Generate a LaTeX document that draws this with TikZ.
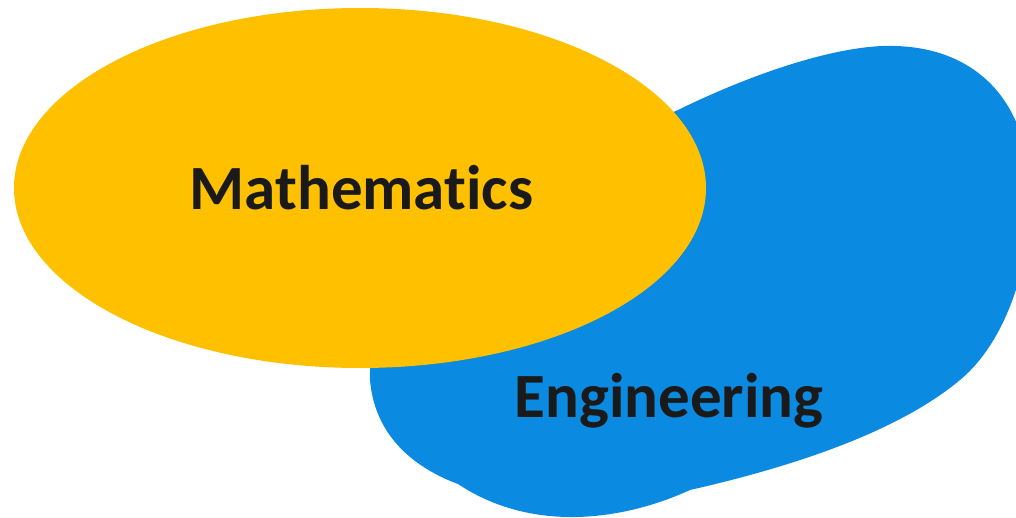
\documentclass[tikz,border=0pt]{standalone}
\usepackage{fontspec}
\setmainfont{Carlito}[Ligatures=NoCommon]
\usetikzlibrary{calc}

\definecolor{mathyellow}{HTML}{FFC000}
\definecolor{engblue}{HTML}{0A8AE0}
\definecolor{inkdark}{HTML}{1A1A1A}

\begin{document}
\begin{tikzpicture}[x=1pt, y=-1pt,
  areatext/.style={anchor=base, inner sep=0, text=inkdark, font=\fontsize{63}{70}\selectfont\bfseries}]
\useasboundingbox (0,0) rectangle (1016,518);
\clip (0,0) rectangle (1016,518);
% engineering blob
\fill[engblue] (678,110) .. controls (770,65) and (850,44) .. (895,46)
  .. controls (975,48) and (1028,100) .. (1030,190)
  .. controls (1032,260) and (1008,340) .. (960,380)
  .. controls (900,430) and (800,465) .. (690,490)
  .. controls (620,522) and (530,532) .. (458,484)
  .. controls (420,470) and (375,440) .. (370,380)
  .. controls (365,300) and (500,190) .. cycle;
% mathematics ellipse
\fill[mathyellow] (360,188) ellipse [x radius=346, y radius=180];
\node[areatext] (math) at (361.5,210) {Mathematics};
\node[areatext] (eng) at (669,417) {Engineering};
\end{tikzpicture}
\end{document}
